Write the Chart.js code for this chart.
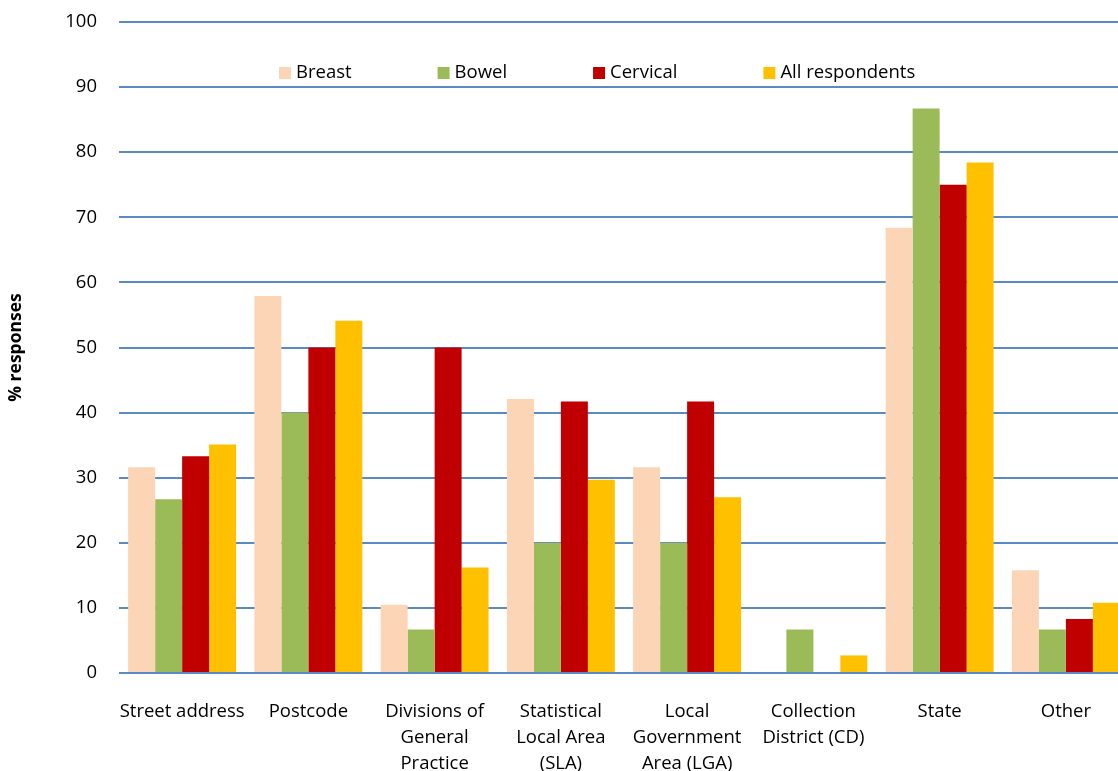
<!DOCTYPE html>
<html>
<head>
<meta charset="utf-8">
<script src="https://cdn.jsdelivr.net/npm/chart.js@4/dist/chart.umd.min.js"></script>
<style>
  html, body { margin: 0; padding: 0; background: #fff; overflow: hidden; }
  #wrap { width: 1130px; height: 771px; position: relative; }
</style>
</head>
<body>
<div id="wrap"><canvas id="myChart"></canvas></div>
<script>
const categories = [
    'Street address',
    'Postcode',
    ['Divisions of', 'General', 'Practice'],
    ['Statistical', 'Local Area', '(SLA)'],
    ['Local', 'Government', 'Area (LGA)'],
    ['Collection', 'District (CD)'],
    'State',
    'Other'
];
const breast = [31.6, 57.9, 10.5, 42.1, 31.6, 0, 68.4, 15.8];
const bowel = [26.7, 40.0, 6.7, 20.0, 20.0, 6.7, 86.7, 6.7];
const cervical = [33.3, 50.0, 50.0, 41.7, 41.7, 0, 75.0, 8.3];
const allRespondents = [35.1, 54.1, 16.2, 29.7, 27.0, 2.7, 78.4, 10.8];
const yTicks = [0, 10, 20, 30, 40, 50, 60, 70, 80, 90, 100];

const fontFamily = '"Open Sans", Lato, sans-serif';

// legend drawn inside the plot, between the 90 and 100 lines
const insideLegend = {
    id: 'insideLegend',
    afterDraw(chart) {
        const ctx = chart.ctx;
        const y = 73;
        let x = 279;
        ctx.save();
        ctx.font = '18.5px ' + fontFamily;
        ctx.textBaseline = 'middle';
        ctx.textAlign = 'left';
        chart.data.datasets.forEach(ds => {
            ctx.fillStyle = ds.backgroundColor;
            ctx.fillRect(x, y - 6, 12, 12);
            ctx.fillStyle = '#000';
            ctx.fillText(ds.label, x + 17, y);
            x += 17 + ctx.measureText(ds.label).width + 86;
        });
        ctx.restore();
    }
};

const ctx = document.querySelector('#myChart').getContext('2d');
const config = {
    type: 'bar',
    data: {
        labels: categories,
        datasets: [
            { label: 'Breast', data: breast, backgroundColor: '#FBD5B5' },
            { label: 'Bowel', data: bowel, backgroundColor: '#9BBB59' },
            { label: 'Cervical', data: cervical, backgroundColor: '#C00000' },
            { label: 'All respondents', data: allRespondents, backgroundColor: '#FFC000' }
        ]
    },
    options: {
        responsive: true,
        maintainAspectRatio: false,
        animation: false,
        layout: { padding: { top: 22, right: 1, left: 0, bottom: 0 } },
        datasets: {
            bar: { barPercentage: 1.0, categoryPercentage: 0.855 }
        },
        plugins: {
            legend: { display: false },
            tooltip: { enabled: false }
        },
        scales: {
            x: {
                grid: { display: false, drawTicks: false },
                border: { display: false },
                ticks: {
                    autoSkip: false,
                    maxRotation: 0,
                    padding: 26,
                    color: '#000',
                    font: { family: fontFamily, size: 18.5, lineHeight: 1.4 }
                },
                afterFit: scale => { scale.height = 98; }
            },
            y: {
                min: 0,
                max: 100,
                afterBuildTicks: scale => { scale.ticks = yTicks.map(v => ({ value: v })); },
                grid: { color: '#5A8AC6', lineWidth: 2, drawTicks: false },
                border: { display: false },
                ticks: {
                    padding: 22,
                    color: '#000',
                    font: { family: fontFamily, size: 18.5 }
                },
                title: {
                    display: true,
                    text: '% responses',
                    color: '#000',
                    padding: { top: 6, bottom: 0 },
                    font: { family: fontFamily, size: 17.5, weight: 'bold' }
                },
                afterFit: scale => {
                    scale.width = 119;
                    scale.paddingTop = 0;
                    scale.paddingBottom = 0;
                }
            }
        }
    },
    plugins: [insideLegend]
};
new Chart(ctx, config);
</script>
</body>
</html>
